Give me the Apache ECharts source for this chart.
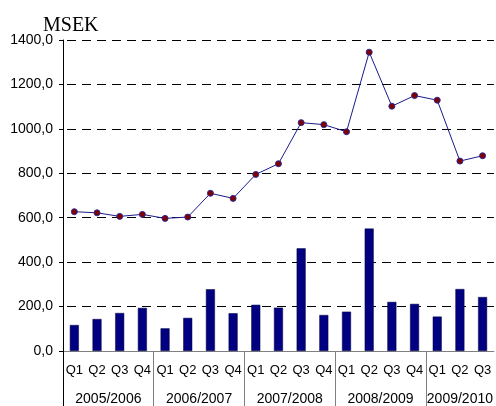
<!DOCTYPE html>
<html>
<head>
<meta charset="utf-8">
<script src="https://cdn.jsdelivr.net/npm/echarts@6/dist/echarts.min.js"></script>
<style>
  html, body { margin: 0; padding: 0; background: #fff; }
  #chart { width: 496px; height: 406px; }
</style>
</head>
<body>
<div id="chart"></div>
<script>
const quarters = ['Q1', 'Q2', 'Q3', 'Q4', 'Q1', 'Q2', 'Q3', 'Q4', 'Q1', 'Q2', 'Q3', 'Q4',
  'Q1', 'Q2', 'Q3', 'Q4', 'Q1', 'Q2', 'Q3']
const years = ['2005/2006', '2006/2007', '2007/2008', '2008/2009', '2009/2010']
const quartersPerYear = [4, 4, 4, 4, 3]
const barValues = [117, 144, 171, 194, 102, 149, 278, 170, 208, 195, 462, 162,
  177, 551, 221, 212, 155, 279, 243]
const lineValues = [627, 622, 606, 615, 597, 603, 710, 687, 795, 843, 1028, 1019,
  987, 1345, 1102, 1150, 1129, 855, 879]

// group edges / centres on a 0..n value scale laid over the category axis
const edges = []
const centres = []
let acc = 0
quartersPerYear.forEach(n => {
  centres.push(acc + n / 2)
  acc += n
  edges.push(acc)
})
edges.pop()

const chart = echarts.init(document.getElementById('chart'))
chart.setOption({
  animation: false,
  title: {
    text: 'MSEK',
    left: 38,
    top: 11,
    textStyle: { fontFamily: 'Liberation Serif', fontSize: 20, fontWeight: 'normal', color: '#000' }
  },
  grid: { left: 63, right: 0, top: 40, bottom: 55 },
  xAxis: [
    {
      type: 'category',
      data: quarters,
      axisLine: { lineStyle: { color: '#808080', width: 1 } },
      axisTick: { show: false },
      axisLabel: {
        interval: 0,
        margin: 13,
        fontFamily: 'Liberation Sans',
        fontSize: 13,
        color: '#000'
      }
    },
    {
      type: 'value',
      min: 0,
      max: quarters.length,
      position: 'bottom',
      axisLine: { show: false },
      splitLine: { show: false },
      axisTick: {
        show: true,
        customValues: edges,
        length: 55,
        lineStyle: { color: '#808080' }
      },
      axisLabel: {
        customValues: centres,
        margin: 41,
        fontFamily: 'Liberation Sans',
        fontSize: 14,
        color: '#000',
        formatter: v => years[centres.indexOf(v)] || ''
      }
    },
    {
      type: 'value',
      min: 0,
      max: quarters.length,
      position: 'bottom',
      axisLine: { show: false },
      splitLine: { show: false },
      axisTick: { show: true, customValues: [0], length: 55, lineStyle: { color: '#000' } },
      axisLabel: { show: false }
    }
  ],
  yAxis: {
    type: 'value',
    min: 0,
    max: 1400,
    interval: 200,
    axisLine: { show: true, lineStyle: { color: '#000' } },
    axisTick: { show: true, length: 4, lineStyle: { color: '#000' } },
    axisLabel: {
      margin: 10,
      fontFamily: 'Liberation Sans',
      fontSize: 14,
      color: '#000',
      formatter: v => v.toFixed(1).replace('.', ',')
    },
    splitLine: { lineStyle: { color: '#000', type: [9, 6], dashOffset: -4, width: 1 } }
  },
  series: [
    {
      type: 'bar',
      data: barValues,
      barWidth: 9,
      itemStyle: { color: '#000080', borderColor: '#000040', borderWidth: 0.5 }
    },
    {
      type: 'line',
      data: lineValues,
      symbol: 'circle',
      symbolSize: 6,
      lineStyle: { color: '#1a1a8c', width: 1 },
      itemStyle: { color: '#800000', borderColor: '#2a2a9a', borderWidth: 1 }
    }
  ]
})
</script>
</body>
</html>
